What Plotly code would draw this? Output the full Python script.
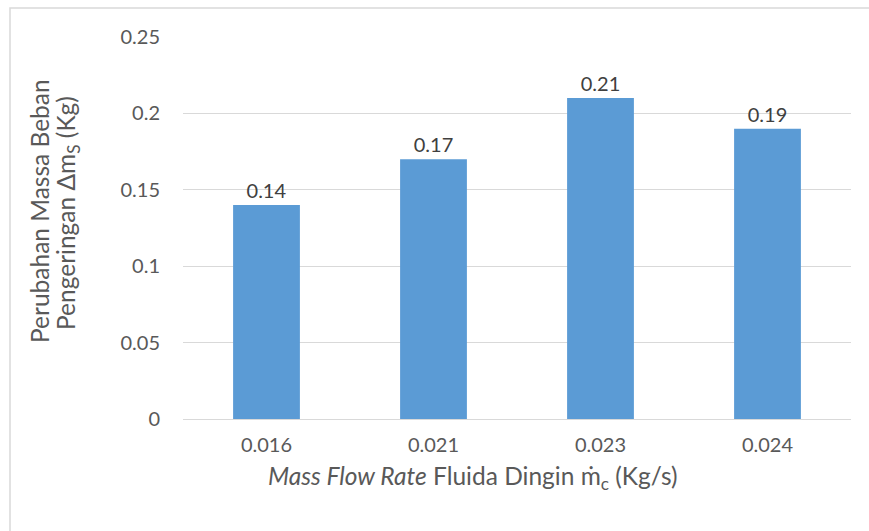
import plotly.graph_objects as go

categories = ["0.016", "0.021", "0.023", "0.024"]
values = [0.14, 0.17, 0.21, 0.19]
value_labels = ["0.14", "0.17", "0.21", "0.19"]
y_ticks = [0, 0.05, 0.1, 0.15, 0.2, 0.25]
y_tick_labels = ["0", "0.05", "0.1", "0.15", "0.2", "0.25"]

W, H = 869, 531
L, R, T, B = 183, 18, 37, 112
pw, ph = W - L - R, H - T - B

def px(x):
    return (x - L) / pw

def py(y):
    return (H - B - y) / ph

FONT = "Lato"
TICK = "#595959"
TITLE_SIZE = 24.5

fig = go.Figure(go.Bar(
    x=categories, y=values,
    marker=dict(color="#5B9BD5", line=dict(width=0)),
    text=value_labels, textposition="outside",
    textfont=dict(family=FONT, size=20, color="#404040"),
    cliponaxis=False,
))

fig.update_layout(
    width=W, height=H,
    margin=dict(l=L, r=R, t=T, b=B),
    paper_bgcolor="white", plot_bgcolor="white",
    bargap=0.6,
    showlegend=False,
    font=dict(family=FONT, size=20, color=TICK),
    xaxis=dict(
        type="category", showgrid=False, zeroline=False,
        showline=False, ticks="",
        tickfont=dict(family=FONT, size=20, color=TICK),
        ticklabelstandoff=12,
    ),
    yaxis=dict(
        range=[0, 0.25], tickvals=y_ticks, ticktext=y_tick_labels,
        showgrid=True, gridcolor="#D9D9D9", gridwidth=1.3,
        zeroline=True, zerolinecolor="#D9D9D9", zerolinewidth=1.3,
        showline=False, ticks="",
        tickfont=dict(family=FONT, size=20, color=TICK),
        ticklabelstandoff=22,
    ),
    shapes=[dict(
        type="rect", xref="paper", yref="paper",
        x0=px(10), x1=px(900), y0=py(8), y1=py(560),
        line=dict(color="#D9D9D9", width=1.5), fillcolor="rgba(0,0,0,0)",
        layer="below",
    )],
    annotations=[
        dict(text="Perubahan Massa Beban", xref="paper", yref="paper",
             x=px(39), y=py(211), textangle=-90, showarrow=False,
             xanchor="center", yanchor="middle",
             font=dict(family=FONT, size=TITLE_SIZE, color=TICK)),
        dict(text="Pengeringan Δm<sub>S</sub> (Kg)", xref="paper", yref="paper",
             x=px(67), y=py(213), textangle=-90, showarrow=False,
             xanchor="center", yanchor="middle",
             font=dict(family=FONT, size=TITLE_SIZE, color=TICK)),
        dict(text="<i>Mass Flow Rate</i> Fluida Dingin ṁ<sub>c</sub> (Kg/s)",
             xref="paper", yref="paper",
             x=px(473), y=py(477), showarrow=False,
             xanchor="center", yanchor="middle",
             font=dict(family=FONT, size=TITLE_SIZE, color=TICK)),
    ],
)

fig.write_html("out.html")
